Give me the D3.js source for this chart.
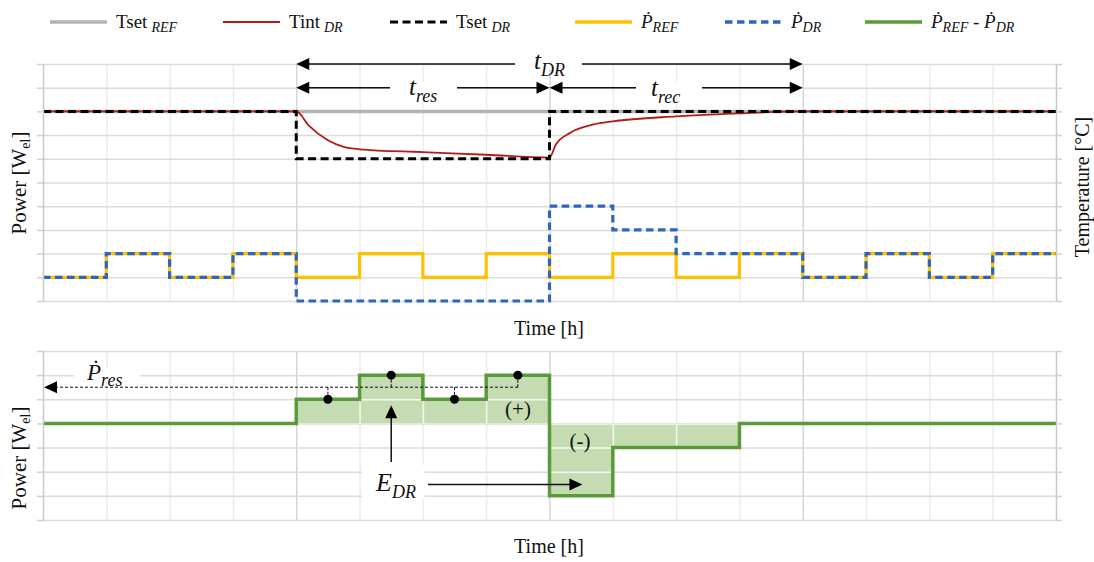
<!DOCTYPE html>
<html lang="en">
<head>
	<meta charset="utf-8">
	<title>Demand response chart</title>
	<script src="https://d3js.org/d3.v7.min.js"></script>
	<style type="text/css">
		body { margin: 0; background: #fff; }
		svg text { font-family: "Liberation Serif", "Times New Roman", "DejaVu Serif", serif; fill: #111; }
	</style>
</head>
<body>
	<div id="chart"></div>

<script type="text/javascript">
	// time axis (hours) and step boundaries
	var timeSteps = [0, 1, 2, 3, 4, 5, 6, 7, 8, 9, 10, 11, 12, 13, 14, 15, 16];
	var majorHours = [4, 8, 12];
	var topLevels = [0, 1, 2, 3, 4, 5, 6, 7, 8, 9, 10];
	var bottomLevels = [-4, -3, -2, -1, 0, 1, 2, 3];

	// power per hour (one value per interval)
	var pRef  = [1, 2, 1, 2, 1, 2, 1, 2, 1, 2, 1, 2, 1, 2, 1, 2];
	var pDr   = [1, 2, 1, 2, 0, 0, 0, 0, 4, 3, 2, 2, 1, 2, 1, 2];
	var pDiff = [0, 0, 0, 0, 1, 2, 1, 2, -3, -1, -1, 0, 0, 0, 0, 0];

	// temperatures (same grid units)
	var tsetRef = [8, 8, 8, 8, 8, 8, 8, 8, 8, 8, 8, 8, 8, 8, 8, 8];
	var tsetDr  = [8, 8, 8, 8, 6, 6, 6, 6, 8, 8, 8, 8, 8, 8, 8, 8];
	var tintTime = [0, 4, 4.2, 4.5, 4.75, 5, 6, 7, 8, 8.1, 8.33, 8.7, 9, 10, 11, 12, 16];
	var tintDr   = [8, 8, 7.4, 6.78, 6.5, 6.4, 6.28, 6.17, 6.05, 6.6, 7.1, 7.45, 7.58, 7.79, 7.92, 8, 8];

	// reserve power marks
	var resHours = [4.5, 5.5, 6.5, 7.5];
	var resLevel = 1.5;

	var w = 1094, h = 562;
	var plotL = 43, plotR = 1056;

	var svg = d3.select("#chart").append("svg")
		.attr("width", w)
		.attr("height", h);

	var x = d3.scaleLinear().domain([0, 16]).range([plotL, plotR]);
	var yTop = d3.scaleLinear().domain([0, 10]).range([301, 64]);
	var yBot = d3.scaleLinear().domain([-4, 3]).range([520, 351]);

	function steps(vals) {
		var pts = vals.map(function(v, i) { return [timeSteps[i], v]; });
		pts.push([timeSteps[timeSteps.length - 1], vals[vals.length - 1]]);
		return pts;
	}

	function drawGrid(g, y, levels, color, minorColor, majorColor) {
		var y0 = y.range()[0], y1 = y.range()[1];
		g.append("g")
			.attr("transform", "translate(0," + y0 + ")")
			.call(d3.axisBottom(x).tickValues(timeSteps.slice(1, -1)).tickSize(-(y0 - y1)).tickFormat(""))
			.call(function(a) { a.select(".domain").remove(); })
			.selectAll("line")
			.attr("stroke", function(d) {
				return color || (majorHours.indexOf(d) >= 0 ? majorColor : minorColor);
			})
			.attr("stroke-width", 1.5);
		g.append("g")
			.attr("transform", "translate(" + plotL + ",0)")
			.call(d3.axisLeft(y).tickValues(levels).tickSize(-(plotR - plotL)).tickFormat(""))
			.call(function(a) { a.select(".domain").remove(); })
			.selectAll("line")
			.attr("stroke", color || "#dcdcdc")
			.attr("stroke-width", 1.5);
	}

	function drawFrame(y, levels) {
		svg.append("g")
			.attr("transform", "translate(" + plotL + ",0)")
			.call(d3.axisLeft(y).tickValues(levels).tickSize(6).tickSizeOuter(0).tickFormat(""))
			.call(function(a) {
				a.select(".domain").attr("stroke", "#c8c8c8").attr("stroke-width", 1.5);
				a.selectAll("line").attr("stroke", "#d0d0d0").attr("stroke-width", 1.5);
			});
		svg.append("g")
			.attr("transform", "translate(" + plotR + ",0)")
			.call(d3.axisRight(y).tickValues(levels).tickSize(6).tickSizeOuter(0).tickFormat(""))
			.call(function(a) {
				a.select(".domain").attr("stroke", "#c8c8c8").attr("stroke-width", 1.5);
				a.selectAll("line").attr("stroke", "#d0d0d0").attr("stroke-width", 1.5);
			});
	}

	function arrowHead(g, tipX, tipY, dir) {
		// dir: "l", "r", "u"
		var p;
		if (dir == "l") p = [[tipX, tipY], [tipX + 13, tipY - 6], [tipX + 13, tipY + 6]];
		else if (dir == "r") p = [[tipX, tipY], [tipX - 13, tipY - 6], [tipX - 13, tipY + 6]];
		else p = [[tipX, tipY], [tipX - 6, tipY + 13], [tipX + 6, tipY + 13]];
		g.append("path").attr("d", "M" + p.join("L") + "Z").attr("fill", "#000");
	}

	function labelSub(g, px, py, main, sub, size, subSize, italicMain) {
		var t = g.append("text").attr("x", px).attr("y", py).attr("font-size", size);
		t.append("tspan").text(main).attr("font-style", italicMain ? "italic" : "normal");
		t.append("tspan").text(sub).attr("font-style", "italic")
			.attr("font-size", subSize).attr("dy", size * 0.28);
		return t;
	}

	// ---------------- top chart ----------------
	var topG = svg.append("g");
	drawGrid(topG, yTop, topLevels, null, "#ececec", "#d6d6d6");
	drawFrame(yTop, topLevels);

	var stepLine = function(y) {
		return d3.line().x(function(d) { return x(d[0]); }).y(function(d) { return y(d[1]); })
			.curve(d3.curveStepAfter);
	};

	topG.append("path").attr("d", stepLine(yTop)(steps(tsetRef)))
		.attr("fill", "none").attr("stroke", "#b3b3b3").attr("stroke-width", 3.5);

	var tintPts = tintTime.map(function(t, i) { return [t, tintDr[i]]; });
	topG.append("path")
		.attr("d", d3.line().x(function(d) { return x(d[0]); }).y(function(d) { return yTop(d[1]); })
			.curve(d3.curveMonotoneX)(tintPts))
		.attr("fill", "none").attr("stroke", "#b31b1b").attr("stroke-width", 1.8);

	topG.append("path").attr("d", stepLine(yTop)(steps(tsetDr)))
		.attr("fill", "none").attr("stroke", "#000").attr("stroke-width", 3)
		.attr("stroke-dasharray", "8,4.5");

	topG.append("path").attr("d", stepLine(yTop)(steps(pRef)))
		.attr("fill", "none").attr("stroke", "#ffc000").attr("stroke-width", 3.2);

	topG.append("path").attr("d", stepLine(yTop)(steps(pDr)))
		.attr("fill", "none").attr("stroke", "#2f66bd").attr("stroke-width", 3.2)
		.attr("stroke-dasharray", "7.5,4.5");

	// time span arrows
	var ann = svg.append("g");
	function span(t0, t1, lvl, gapX0, gapX1) {
		ann.append("line").attr("x1", x(t0) + 10).attr("x2", x(t1) - 10)
			.attr("y1", yTop(lvl)).attr("y2", yTop(lvl))
			.attr("stroke", "#111").attr("stroke-width", 1.5);
		ann.append("rect").attr("x", gapX0).attr("width", gapX1 - gapX0)
			.attr("y", yTop(lvl) - 6).attr("height", 12).attr("fill", "#fff");
		arrowHead(ann, x(t0), yTop(lvl), "l");
		arrowHead(ann, x(t1), yTop(lvl), "r");
	}
	span(4, 12, 10, 515, 582);
	span(4, 8, 9, 390, 457);
	span(8, 12, 9, 636, 702);
	labelSub(ann, 534, 69, "t", "DR", 25, 18, true);
	labelSub(ann, 409, 95, "t", "res", 25, 18, true);
	labelSub(ann, 651, 96, "t", "rec", 25, 18, true);

	svg.append("text").attr("x", 549).attr("y", 335).attr("text-anchor", "middle")
		.attr("font-size", 20).text("Time [h]");

	var pl = svg.append("text").attr("transform", "translate(26,183) rotate(-90)")
		.attr("text-anchor", "middle").attr("font-size", 21);
	pl.append("tspan").text("Power [W");
	pl.append("tspan").text("el").attr("font-size", 14).attr("dy", 4);
	pl.append("tspan").text("]").attr("dy", -4);

	svg.append("text").attr("transform", "translate(1089,187) rotate(-90)")
		.attr("text-anchor", "middle").attr("font-size", 20).text("Temperature [°C]");

	// ---------------- bottom chart ----------------
	var botG = svg.append("g");
	drawGrid(botG, yBot, bottomLevels, null, "#ececec", "#d6d6d6");
	drawFrame(yBot, bottomLevels);

	var diffPts = steps(pDiff);
	var area = d3.area().x(function(d) { return x(d[0]); })
		.y0(yBot(0)).y1(function(d) { return yBot(d[1]); })
		.curve(d3.curveStepAfter);

	svg.append("clipPath").attr("id", "fillclip")
		.append("path").attr("d", area(diffPts));
	botG.append("path").attr("d", area(diffPts)).attr("fill", "#c5dcb2");
	var white = botG.append("g").attr("clip-path", "url(#fillclip)");
	drawGrid(white, yBot, bottomLevels, "#f4f8f0");

	botG.append("path").attr("d", stepLine(yBot)(diffPts))
		.attr("fill", "none").attr("stroke", "#5b9a3a").attr("stroke-width", 3.5);

	// reserve power line
	var res = svg.append("g");
	res.append("line").attr("x1", x(0) + 12).attr("x2", x(resHours[3]))
		.attr("y1", yBot(resLevel)).attr("y2", yBot(resLevel))
		.attr("stroke", "#111").attr("stroke-width", 1).attr("stroke-dasharray", "3,2");
	arrowHead(res, x(0) + 1, yBot(resLevel), "l");
	res.selectAll("line.stem").data(resHours).enter().append("line")
		.attr("class", "stem")
		.attr("x1", function(d) { return x(d); }).attr("x2", function(d) { return x(d); })
		.attr("y1", yBot(resLevel))
		.attr("y2", function(d) { return yBot(pDiff[timeSteps.indexOf(Math.floor(d))]); })
		.attr("stroke", "#111").attr("stroke-width", 1).attr("stroke-dasharray", "3,1.5");
	res.selectAll("circle").data(resHours).enter().append("circle")
		.attr("cx", function(d) { return x(d); })
		.attr("cy", function(d) { return yBot(pDiff[timeSteps.indexOf(Math.floor(d))]); })
		.attr("r", 4.5).attr("fill", "#000");

	res.append("rect").attr("x", 74).attr("y", 368).attr("width", 66).attr("height", 14).attr("fill", "#fff");
	labelSub(res, 87, 380, "Ṗ", "res", 23, 18, true);

	svg.append("text").attr("x", 518).attr("y", 416).attr("text-anchor", "middle")
		.attr("font-size", 21).text("(+)");
	svg.append("text").attr("x", 580).attr("y", 448).attr("text-anchor", "middle")
		.attr("font-size", 21).text("(-)");

	// E_DR arrows
	var e = svg.append("g");
	e.append("rect").attr("x", 362).attr("y", 465).attr("width", 62).attr("height", 34).attr("fill", "#fff");
	e.append("line").attr("x1", x(5.5)).attr("x2", x(5.5))
		.attr("y1", yBot(-1.6)).attr("y2", yBot(0.3))
		.attr("stroke", "#111").attr("stroke-width", 1.5);
	arrowHead(e, x(5.5), yBot(0.75), "u");
	e.append("line").attr("x1", x(6.08)).attr("x2", x(8.35))
		.attr("y1", yBot(-2.53)).attr("y2", yBot(-2.53))
		.attr("stroke", "#111").attr("stroke-width", 1.5);
	arrowHead(e, x(8.52), yBot(-2.53), "r");
	labelSub(e, 376, 491, "E", "DR", 26, 18, true);

	svg.append("text").attr("x", 549).attr("y", 553).attr("text-anchor", "middle")
		.attr("font-size", 20).text("Time [h]");

	var pl2 = svg.append("text").attr("transform", "translate(26,458) rotate(-90)")
		.attr("text-anchor", "middle").attr("font-size", 21);
	pl2.append("tspan").text("Power [W");
	pl2.append("tspan").text("el").attr("font-size", 14).attr("dy", 4);
	pl2.append("tspan").text("]").attr("dy", -4);

	// ---------------- legend ----------------
	var legend = svg.append("g");
	var legendItems = [
		{ x: 50, color: "#b3b3b3", dash: null, main: "Tset", sub: "REF", gap: true, width: 3.5 },
		{ x: 223, color: "#b31b1b", dash: null, main: "Tint", sub: "DR", gap: true, width: 2 },
		{ x: 390, color: "#000", dash: "8,4.5", main: "Tset", sub: "DR", gap: true, width: 3 },
		{ x: 575, color: "#ffc000", dash: null, main: "Ṗ", sub: "REF", gap: false, width: 3.5 },
		{ x: 725, color: "#2f66bd", dash: "7.5,4.5", main: "Ṗ", sub: "DR", gap: false, width: 3.5 },
		{ x: 865, color: "#5b9a3a", dash: null, main: "Ṗ", sub: "REF", gap: false, width: 3.5, extra: true }
	];
	legendItems.forEach(function(it) {
		legend.append("line").attr("x1", it.x).attr("x2", it.x + 57)
			.attr("y1", 22).attr("y2", 22)
			.attr("stroke", it.color).attr("stroke-width", it.width)
			.attr("stroke-dasharray", it.dash);
		var t = legend.append("text").attr("x", it.x + 66).attr("y", 28).attr("font-size", 19);
		var italic = !it.gap;
		t.append("tspan").text(it.main).attr("font-style", italic ? "italic" : "normal");
		t.append("tspan").text(it.sub).attr("font-style", "italic").attr("font-size", 14)
			.attr("dx", it.gap ? 4 : 0).attr("dy", 4);
		if (it.extra) {
			t.append("tspan").text(" - ").attr("dy", -4);
			t.append("tspan").text("Ṗ").attr("font-style", "italic");
			t.append("tspan").text("DR").attr("font-style", "italic").attr("font-size", 14).attr("dy", 4);
		}
	});
</script>
</body>
</html>
